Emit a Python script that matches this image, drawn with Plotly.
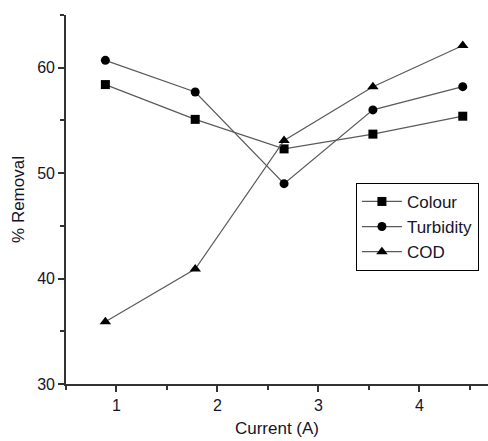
import plotly.graph_objects as go

# Current applied (A) and removal efficiencies (%)
current = [0.89, 1.78, 2.66, 3.54, 4.43]
colour = [58.4, 55.1, 52.3, 53.7, 55.4]
turbidity = [60.7, 57.7, 49.0, 56.0, 58.2]
cod = [35.9, 40.9, 53.1, 58.2, 62.1]

series = [
    ("Colour", colour, "square"),
    ("Turbidity", turbidity, "circle"),
    ("COD", cod, "triangle-up"),
]

FONT = "Liberation Sans, Arial, sans-serif"
TEXT = "#15152a"

fig = go.Figure()
for name, values, symbol in series:
    fig.add_trace(go.Scatter(
        x=current, y=values, name=name, mode="lines+markers",
        line=dict(color="#5a5a5a", width=1.2),
        marker=dict(symbol=symbol, size=10 if symbol == "triangle-up" else 9,
                    color="black"),
    ))

axis_common = dict(
    showline=True, linecolor="#333333", linewidth=1.6,
    ticks="outside", ticklen=6, tickwidth=1.5, tickcolor="#333333",
    showgrid=False, zeroline=False, mirror=False,
    tickfont=dict(family=FONT, size=16, color=TEXT),
    minor=dict(ticks="outside", ticklen=4, tickwidth=1.5, tickcolor="#333333",
               showgrid=False),
)

fig.update_xaxes(
    range=[0.5, 4.68], tickvals=[1, 2, 3, 4], minor_dtick=0.5,
    title=dict(text="Current (A)", font=dict(family=FONT, size=17, color=TEXT),
               standoff=9),
    **axis_common,
)
fig.update_yaxes(
    range=[30, 65], tickvals=[30, 40, 50, 60], minor_dtick=5,
    title=dict(text="% Removal", font=dict(family=FONT, size=17, color=TEXT),
               standoff=8),
    **axis_common,
)

fig.update_layout(
    width=488, height=441,
    margin=dict(l=66, r=0, t=15, b=57),
    paper_bgcolor="white", plot_bgcolor="white",
    legend=dict(
        x=0.687, y=0.545, xanchor="left", yanchor="top",
        bgcolor="white", bordercolor="black", borderwidth=1,
        font=dict(family=FONT, size=17, color=TEXT),
        tracegroupgap=0, itemwidth=40,
    ),
)

fig.write_html("out.html")
